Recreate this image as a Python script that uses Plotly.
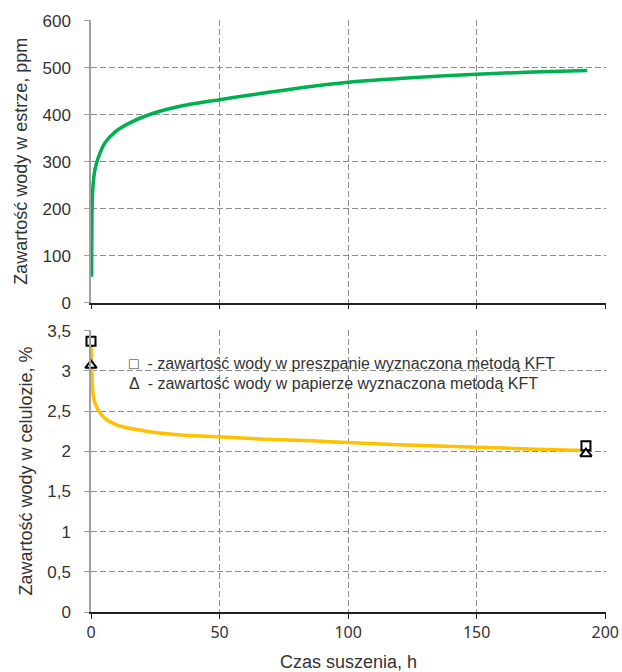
import plotly.graph_objects as go

# --- data ---
t_ester = [0.25, 0.45, 0.8, 1.5, 2.8, 5.4, 9.3, 14.5, 23.6, 36.5, 50, 62, 75, 87, 100, 126, 150, 172, 193]
ppm_ester = [55, 210, 250, 282, 308, 340, 363, 381, 402, 420, 432, 442, 452, 461, 469, 479, 486, 491, 494]

t_cell = [0.02, 0.15, 0.35, 0.9, 1.8, 2.85, 4.5, 6.7, 10, 13.2, 18, 23.6, 36.5, 49.5, 67.6, 86, 100, 120, 150, 170, 191]
pct_cell = [3.36, 3.15, 2.96, 2.69, 2.58, 2.51, 2.44, 2.38, 2.33, 2.30, 2.27, 2.24, 2.20, 2.18, 2.15, 2.13, 2.11, 2.08, 2.05, 2.03, 2.01]

kft_t = [0, 192.5]
kft_preszpan = [3.37, 2.07]
kft_papier = [3.07, 1.97]

x_ticks = [0, 50, 100, 150, 200]
x_ticklabels = ["0", "50", "100", "150", "200"]
y1_ticks = [0, 100, 200, 300, 400, 500, 600]
y1_ticklabels = ["0", "100", "200", "300", "400", "500", "600"]
y2_ticks = [0, 0.5, 1, 1.5, 2, 2.5, 3, 3.5]
y2_ticklabels = ["0", "0,5", "1", "1,5", "2", "2,5", "3", "3,5"]

legend_lines = ["\u25a1  - zawartość wody w preszpanie wyznaczona metodą KFT",
                "\u0394  - zawartość wody w papierze wyznaczona metodą KFT"]
legend_y = [3.09, 2.84]

TXT = "#333333"
GRID = "#8c8c8c"

fig = go.Figure()
fig.add_trace(go.Scatter(x=t_ester, y=ppm_ester, mode="lines",
                         line=dict(color="#00b050", width=3.5, shape="spline", smoothing=0.7),
                         xaxis="x", yaxis="y", showlegend=False))
fig.add_trace(go.Scatter(x=t_cell, y=pct_cell, mode="lines",
                         line=dict(color="#ffc000", width=3.5, shape="spline", smoothing=0.7),
                         xaxis="x2", yaxis="y2", showlegend=False))
fig.add_trace(go.Scatter(x=kft_t, y=kft_preszpan, mode="markers",
                         marker=dict(symbol="square", size=9, color="white",
                                     line=dict(color="black", width=2)),
                         xaxis="x2", yaxis="y2", showlegend=False, cliponaxis=False))
fig.add_trace(go.Scatter(x=kft_t, y=kft_papier, mode="markers",
                         marker=dict(symbol="triangle-up", size=10, color="white",
                                     line=dict(color="black", width=2)),
                         xaxis="x2", yaxis="y2", showlegend=False, cliponaxis=False))

for txt, yv in zip(legend_lines, legend_y):
    fig.add_annotation(x=14, y=yv, xref="x2", yref="y2", text=txt,
                       showarrow=False, xanchor="left", yanchor="middle",
                       font=dict(family="Liberation Sans, Arial", size=16, color=TXT))

xcommon = dict(range=[0, 200.3], tickvals=x_ticks, ticktext=x_ticklabels,
               showgrid=True, gridcolor=GRID, griddash="6px,3px", gridwidth=1,
               showline=True, linecolor="#222222", linewidth=1.5,
               ticks="outside", ticklen=5, tickcolor="#222222", zeroline=False,
               automargin=False)
ycommon = dict(showgrid=True, gridcolor=GRID, griddash="6px,3px", gridwidth=1,
               showline=True, linecolor="#a0a0a0", linewidth=1.5,
               ticks="outside", ticklen=5, tickcolor="#a0a0a0", zeroline=False,
               ticklabelstandoff=10, automargin=False,
               tickfont=dict(family="Liberation Sans, Arial", size=17, color=TXT))

fig.update_layout(
    width=622, height=672,
    margin=dict(l=91, r=16, t=20, b=60),
    paper_bgcolor="white", plot_bgcolor="white",
    showlegend=False,
    xaxis=dict(xcommon, domain=[0, 1], anchor="y", showticklabels=False),
    yaxis=dict(ycommon, domain=[0.5225, 1], anchor="x", range=[0, 601.5],
               tickvals=y1_ticks, ticktext=y1_ticklabels,
               title=dict(text="Zawartość wody w estrze, ppm", standoff=10,
                          font=dict(family="Liberation Sans, Arial", size=18, color=TXT))),
    xaxis2=dict(xcommon, domain=[0, 1], anchor="y2", showticklabels=True,
                tickfont=dict(family="Noto Sans", size=16, color=TXT),
                title=dict(text="Czas suszenia, h", standoff=22,
                           font=dict(family="Liberation Sans, Arial", size=18, color=TXT))),
    yaxis2=dict(ycommon, domain=[0, 0.4764], anchor="x2", range=[0, 3.51],
                tickvals=y2_ticks, ticktext=y2_ticklabels,
                title=dict(text="Zawartość wody w celulozie, %", standoff=10,
                           font=dict(family="Liberation Sans, Arial", size=18, color=TXT))),
)

fig.write_html("out.html", config={"displayModeBar": False},
               post_script="document.body.style.margin='0px';")
